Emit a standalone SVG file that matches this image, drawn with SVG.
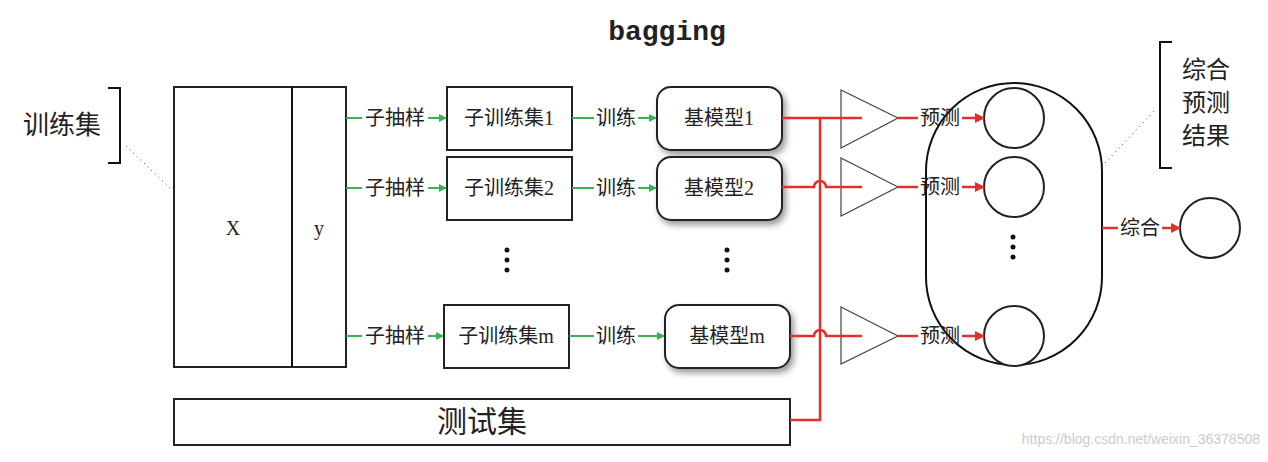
<svg xmlns="http://www.w3.org/2000/svg" width="1268" height="462" viewBox="0 0 1268 462">
<defs>
<marker id="ga" markerWidth="8" markerHeight="8" refX="7" refY="4" orient="auto" markerUnits="userSpaceOnUse" viewBox="0 0 8 8"><path d="M0,0 L8,4 L0,8 z" fill="#3cb054"/></marker>
<marker id="ra" markerWidth="10" markerHeight="10" refX="9" refY="5" orient="auto" markerUnits="userSpaceOnUse" viewBox="0 0 10 10"><path d="M0,0 L10,5 L0,10 z" fill="#e0302a"/></marker>
<filter id="sh" x="-10%" y="-10%" width="130%" height="140%"><feDropShadow dx="3" dy="4" stdDeviation="3" flood-color="#000" flood-opacity="0.4"/></filter>
</defs>
<style>
text{font-family:"Liberation Serif","Noto Sans CJK SC",serif;fill:#222;font-size:20px}
.lbl{text-anchor:middle;dominant-baseline:central}
.box{fill:#fff;stroke:#222;stroke-width:2}
.g{stroke:#3cb054;stroke-width:2;fill:none}
.r{stroke:#e0302a;stroke-width:2.5;fill:none}
.k{stroke:#111;stroke-width:2;fill:none}
</style>
<rect width="1268" height="462" fill="#fff"/>
<text x="667" y="32" class="lbl" style="font-family:'Liberation Mono',monospace;font-size:28px;font-weight:bold">bagging</text>
<g id="trainset">
<text x="62" y="125" class="lbl" style="font-size:26px">训练集</text>
<path class="k" d="M108,88 H120 V163 H108"/>
<path d="M126,146 L172,190" stroke="#333" stroke-dasharray="1,4" fill="none"/>
</g>
<g id="data">
<rect class="box" x="174" y="87" width="172" height="280"/>
<line class="k" x1="292" y1="87" x2="292" y2="367"/>
<text x="233" y="228" class="lbl">X</text>
<text x="319" y="228" class="lbl">y</text>
</g>
<g id="sub1"><rect class="box" x="447" y="87" width="125" height="63"/><text x="509" y="118" class="lbl">子训练集1</text></g>
<g id="sub2"><rect class="box" x="447" y="157" width="125" height="63"/><text x="509" y="188" class="lbl">子训练集2</text></g>
<g id="subm"><rect class="box" x="444" y="305" width="125" height="63"/><text x="506" y="336" class="lbl">子训练集m</text></g>
<g id="m1"><rect class="box" filter="url(#sh)" x="657" y="87" width="125" height="63" rx="14"/><text x="719" y="118" class="lbl">基模型1</text></g>
<g id="m2"><rect class="box" filter="url(#sh)" x="657" y="157" width="125" height="63" rx="14"/><text x="719" y="188" class="lbl">基模型2</text></g>
<g id="mm"><rect class="box" filter="url(#sh)" x="665" y="305" width="125" height="63" rx="14"/><text x="727" y="336" class="lbl">基模型m</text></g>
<g id="test"><rect class="box" x="174" y="399" width="616" height="46"/><text x="482" y="421" class="lbl" style="font-size:30px">测试集</text></g>
<g id="dots" fill="#111">
<circle cx="507" cy="250" r="2.5"/><circle cx="507" cy="260" r="2.5"/><circle cx="507" cy="270" r="2.5"/>
<circle cx="727" cy="250" r="2.5"/><circle cx="727" cy="260" r="2.5"/><circle cx="727" cy="270" r="2.5"/>
<circle cx="1013" cy="237" r="2.5"/><circle cx="1013" cy="247" r="2.5"/><circle cx="1013" cy="257" r="2.5"/>
</g>
<g id="tri" fill="#fff" stroke="#444" stroke-width="1.2">
<path d="M841,90 L898,118 L841,148 z"/>
<path d="M841,158 L898,187 L841,216 z"/>
<path d="M841,307 L898,336 L841,364 z"/>
</g>
<g id="ensemble">
<rect class="k" x="926" y="83" width="176" height="282" rx="88"/>
<circle class="box" cx="1014" cy="118" r="30"/>
<circle class="box" cx="1014" cy="187" r="30"/>
<circle class="box" cx="1014" cy="336" r="30"/>
</g>
<g id="result">
<circle class="box" cx="1210" cy="228" r="30"/>
<path class="k" d="M1172,42 H1160 V168 H1172"/>
<text x="1206" y="70" class="lbl" style="font-size:24px">综合</text>
<text x="1206" y="103" class="lbl" style="font-size:24px">预测</text>
<text x="1206" y="136" class="lbl" style="font-size:24px">结果</text>
<path d="M1105,163 L1155,110" stroke="#333" stroke-dasharray="1,4" fill="none"/>
</g>
<g id="connectors">
<g class="g">
<line x1="346" y1="118" x2="362" y2="118"/><line x1="428" y1="118" x2="446" y2="118" marker-end="url(#ga)"/>
<line x1="346" y1="188" x2="362" y2="188"/><line x1="428" y1="188" x2="446" y2="188" marker-end="url(#ga)"/>
<line x1="346" y1="336" x2="362" y2="336"/><line x1="428" y1="336" x2="443" y2="336" marker-end="url(#ga)"/>
<line x1="572" y1="118" x2="594" y2="118"/><line x1="638" y1="118" x2="656" y2="118" marker-end="url(#ga)"/>
<line x1="572" y1="188" x2="594" y2="188"/><line x1="638" y1="188" x2="656" y2="188" marker-end="url(#ga)"/>
<line x1="569" y1="336" x2="594" y2="336"/><line x1="638" y1="336" x2="664" y2="336" marker-end="url(#ga)"/>
</g>
<text x="395" y="118" class="lbl">子抽样</text><text x="395" y="188" class="lbl">子抽样</text><text x="395" y="336" class="lbl">子抽样</text>
<text x="616" y="118" class="lbl">训练</text><text x="616" y="188" class="lbl">训练</text><text x="616" y="336" class="lbl">训练</text>
<g class="r">
<path d="M782,118 H862"/>
<path d="M820,118 V420 H790"/>
<path d="M782,187 H814 A6,6 0 0 1 826,187 H862"/>
<path d="M790,336 H814 A6,6 0 0 1 826,336 H862"/>
<line x1="898" y1="118" x2="918" y2="118"/><line x1="962" y1="118" x2="984" y2="118" marker-end="url(#ra)"/>
<line x1="898" y1="187" x2="918" y2="187"/><line x1="962" y1="187" x2="984" y2="187" marker-end="url(#ra)"/>
<line x1="898" y1="336" x2="918" y2="336"/><line x1="962" y1="336" x2="984" y2="336" marker-end="url(#ra)"/>
<line x1="1102" y1="228" x2="1118" y2="228"/><line x1="1162" y1="228" x2="1180" y2="228" marker-end="url(#ra)"/>
</g>
<text x="940" y="118" class="lbl">预测</text><text x="940" y="187" class="lbl">预测</text><text x="940" y="336" class="lbl">预测</text>
<text x="1140" y="228" class="lbl">综合</text>
</g>
<text x="1260" y="444" text-anchor="end" style="font-family:'Liberation Sans',sans-serif;font-size:14px;fill:#ccc">https://blog.csdn.net/weixin_36378508</text>
</svg>
